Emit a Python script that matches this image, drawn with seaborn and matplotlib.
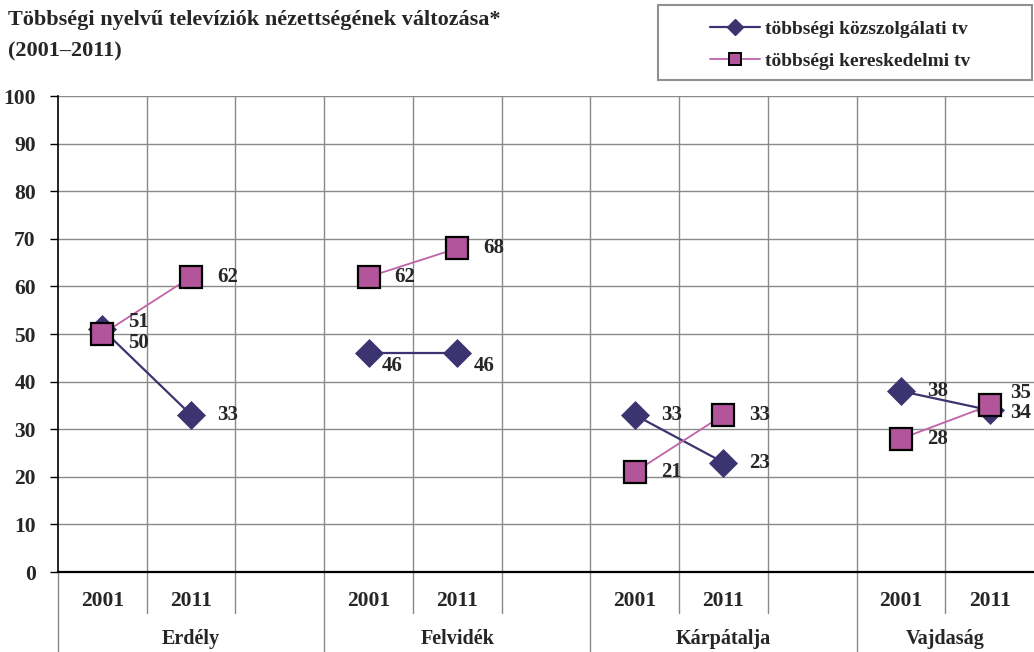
import matplotlib.pyplot as plt
import matplotlib.transforms as mtransforms
from matplotlib.lines import Line2D
from matplotlib.patches import Rectangle
import seaborn as sns
import pandas as pd

# data
title = 'Többségi nyelvű televíziók nézettségének változása*\n(2001–2011)'
regions = ['Erdély', 'Felvidék', 'Kárpátalja', 'Vajdaság']
years = ['2001', '2011']
series_names = ['többségi közszolgálati tv', 'többségi kereskedelmi tv']
kozszolgalati = [51, 33, 46, 46, 33, 23, 38, 34]
kereskedelmi = [50, 62, 62, 68, 21, 33, 28, 35]
yticks = list(range(0, 101, 10))

navy = '#3B3470'
pink = '#C062A8'
square_face = '#B3559A'

rows = []
for name, vals in zip(series_names, [kozszolgalati, kereskedelmi]):
    for i, v in enumerate(vals):
        region = regions[i // 2]
        year = years[i % 2]
        rows.append({'series': name, 'region': region, 'year': year,
                     'pos': regions.index(region) * 3 + years.index(year),
                     'value': v})
df = pd.DataFrame(rows)

sns.set_style('white')
plt.rcParams['font.family'] = ['Liberation Serif', 'DejaVu Serif']
plt.rcParams['font.weight'] = 'bold'

fig = plt.figure(figsize=(10.34, 6.52), dpi=100)
ax = fig.add_axes([58 / 1034, 80 / 652, 976 / 1034, 476 / 652])

styles = {
    series_names[0]: dict(color=navy, marker='D', markersize=14,
                          markerfacecolor=navy, markeredgecolor=navy,
                          markeredgewidth=0.5, linewidth=1.6),
    series_names[1]: dict(color=pink, marker='s', markersize=15.5,
                          markerfacecolor=square_face, markeredgecolor='black',
                          markeredgewidth=1.6, linewidth=1.3),
}
for name in series_names:
    sns.lineplot(data=df[df['series'] == name], x='pos', y='value',
                 units='region', estimator=None, sort=False, legend=False,
                 ax=ax, zorder=3, **styles[name])

# value labels, offsets in pixels (dx, dy)
offsets = {(0, 0): (26, 7), (1, 0): (26, -9),
           (0, 2): (13, -13), (0, 3): (16, -13),
           (0, 7): (20, -3), (1, 7): (20, 12)}
for s, vals in enumerate([kozszolgalati, kereskedelmi]):
    sub = df[df['series'] == series_names[s]].reset_index(drop=True)
    for i, row in sub.iterrows():
        dx, dy = offsets.get((s, i), (26, 0))
        ax.annotate(str(row['value']), (row['pos'], row['value']),
                    xytext=(dx, dy), textcoords='offset pixels',
                    ha='left', va='center', fontsize=15, fontweight='bold',
                    zorder=4, annotation_clip=False)

n_slots = len(regions) * 3 - 1
ax.set_xlim(-0.5, n_slots - 0.5)
ax.set_ylim(0, 100)
ax.set_yticks(yticks)
ax.set_yticklabels([str(t) for t in yticks], fontsize=15.5, fontweight='bold')
ax.set_xticks([i - 0.5 for i in range(1, n_slots)], minor=True)
ax.set_xticks([])
ax.set_xlabel('')
ax.set_ylabel('')
ax.grid(axis='y', color='#8a8a8a', linewidth=1)
ax.grid(axis='x', which='minor', color='#8a8a8a', linewidth=1)
ax.tick_params(axis='y', which='major', left=True, length=6, color='black',
               width=1, pad=10)
ax.tick_params(axis='x', which='both', bottom=False)
for side in ['top', 'right']:
    ax.spines[side].set_visible(False)
ax.spines['left'].set_color('black')
ax.spines['left'].set_linewidth(1.2)
ax.spines['bottom'].set_color('black')
ax.spines['bottom'].set_linewidth(1.6)
ax.spines['bottom'].set_zorder(5)

# two-level category axis
trans = mtransforms.blended_transform_factory(ax.transData, ax.transAxes)
for r, region in enumerate(regions):
    for y, year in enumerate(years):
        ax.text(r * 3 + y, -0.06, year, transform=trans, ha='center',
                va='center', fontsize=15.5, fontweight='bold')
    centre = r * 3 + 1 if r < len(regions) - 1 else r * 3 + 0.5
    ax.text(centre, -0.14, region, transform=trans, ha='center', va='center',
            fontsize=14.5, fontweight='bold')
    ax.plot([r * 3 - 0.5] * 2, [0, -0.2], transform=trans, color='#8a8a8a',
            lw=1, clip_on=False)
    for b in [r * 3 + 0.5, r * 3 + 1.5]:
        if b < n_slots - 0.5:
            ax.plot([b] * 2, [0, -0.086], transform=trans, color='#8a8a8a',
                    lw=1, clip_on=False)

fig.text(8 / 1034, 1 - 10 / 652, title, ha='left', va='top', fontsize=16,
         fontweight='bold', linespacing=1.75)

# legend box
fig.patches.append(Rectangle((658 / 1034, 1 - 80 / 652), 374 / 1034, 75 / 652,
                             transform=fig.transFigure, fill=False,
                             edgecolor='#909090', linewidth=1.5))
handles = [Line2D([], [], color=navy, marker='D', markersize=8, lw=1.6,
                  markerfacecolor=navy, markeredgecolor=navy),
           Line2D([], [], color=pink, marker='s', markersize=8, lw=1.3,
                  markerfacecolor=square_face, markeredgecolor='black',
                  markeredgewidth=1.4)]
fig.legend(handles, series_names, loc='center',
           bbox_to_anchor=(840 / 1034, 1 - 45 / 652), frameon=False,
           prop={'size': 14, 'weight': 'bold'}, handlelength=2.6,
           handletextpad=0.25, labelspacing=0.75)

fig.savefig('out.png', dpi=100)
